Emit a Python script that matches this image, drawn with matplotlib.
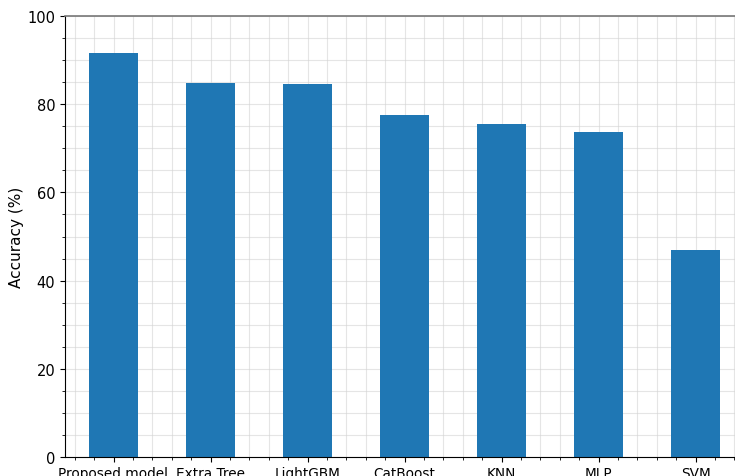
import matplotlib
matplotlib.use("Agg")
import matplotlib.pyplot as plt
import numpy as np
from matplotlib.ticker import MultipleLocator

models = ["Proposed model", "Extra Tree", "LightGBM", "CatBoost", "KNN", "MLP", "SVM"]
accuracy = [91.5, 84.9, 84.5, 77.6, 75.4, 73.6, 47.0]

fig = plt.figure(figsize=(7.35, 4.77), dpi=100)
ax = fig.add_axes([65/735, 19/477, 679/735, 441/477])

x = np.arange(len(models))
ax.bar(x, accuracy, width=0.5, color="#1f77b4", zorder=2)

ax.set_xlim(-0.5, 6.5)
ax.set_ylim(0, 100)
ax.set_xticks(x)
ax.set_xticklabels(models, fontsize=9.8)
ax.xaxis.set_minor_locator(MultipleLocator(0.2))
ax.yaxis.set_major_locator(MultipleLocator(20))
ax.yaxis.set_minor_locator(MultipleLocator(5))
ax.tick_params(axis="y", labelsize=10.5)
ax.tick_params(axis="x", pad=3)
ax.set_ylabel("Accuracy (%)", fontsize=11, labelpad=2)

ax.grid(which="both", color="#d4d4d4", linewidth=0.8, alpha=0.6, zorder=0)
ax.set_axisbelow(True)

ax.spines["right"].set_visible(False)
ax.spines["top"].set_color("#777777")
ax.spines["top"].set_linewidth(1.2)

fig.savefig("out.png", dpi=100)
